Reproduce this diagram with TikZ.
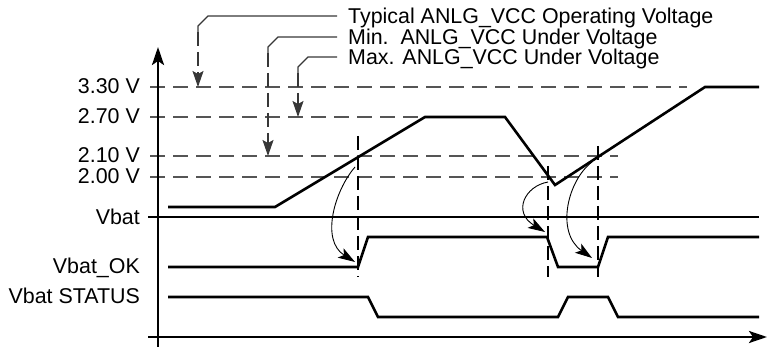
\documentclass[tikz,border=0pt]{standalone}
\usepackage{fontspec}
\setmainfont{Liberation Sans}
\definecolor{levelgray}{RGB}{85,85,85}
\definecolor{leadgray}{RGB}{55,55,55}
\usetikzlibrary{arrows.meta}

\begin{document}
\begin{tikzpicture}[x=1pt, y=-1pt,
    wave/.style={line width=2.6pt, line join=miter},
    level/.style={line width=1.5pt, levelgray, dash pattern=on 15pt off 8pt},
    guide/.style={line width=1.1pt, dash pattern=on 14pt off 6pt},
    leader/.style={line width=1.3pt, leadgray},
    pointer/.style={line width=1.3pt, leadgray, dash pattern=on 14pt off 6pt,
                    -{Stealth[length=16pt, width=11pt, inset=3pt]}},
    cause/.style={line width=0.9pt, -{Stealth[length=17pt, width=11pt, inset=4pt]}},
    axis/.style={line width=2.6pt, -{Stealth[length=18pt, width=12pt, inset=4pt]}},
    ylabel/.style={anchor=base east, inner sep=0pt, font=\fontsize{21.4}{25}\selectfont},
    note/.style={anchor=west, inner xsep=11pt, inner ysep=0pt, text height=15.3pt,
                 text depth=0pt, font=\fontsize{21.4}{25}\selectfont}]
  \useasboundingbox (0,0) rectangle (767,347);

  % level and signal labels
  \node[ylabel] (v330) at (140,94) {3.30 V};
  \node[ylabel] (v270) at (140,124) {2.70 V};
  \node[ylabel] (v210) at (140,163) {2.10 V};
  \node[ylabel] (v200) at (140,184) {2.00 V};
  \node[ylabel] (vbat) at (140,224) {Vbat};
  \node[ylabel] (vok) at (140,273) {Vbat\_OK};
  \node[ylabel] (vstat) at (140,303) {Vbat STATUS};

  \draw[level] (150,87) -- (687,87);
  \draw[level] (150,117) -- (425,117);
  \draw[level] (150,156) -- (618,156);
  \draw[level] (150,177) -- (618,177);

  % axes
  \draw[axis] (158,347) -- (158,47);
  \draw[axis] (148,337) -- (767,337);
  \draw[line width=2.6pt] (148,217) -- (759,217);

  % Vbat
  \coordinate (b0) at (168,207);
  \coordinate (b1) at (275,207);
  \coordinate (b2) at (425,117);
  \coordinate (b3) at (505,117);
  \coordinate (b4) at (555,185);
  \coordinate (b5) at (705,87);
  \coordinate (b6) at (759,87);
  \draw[wave] (b0) -- (b1) -- (b2) -- (b3) -- (b4) -- (b5) -- (b6);

  % Vbat_OK and STATUS
  \draw[wave] (168,267) -- (358,267) -- (368,237) -- (547,237) -- (558,267)
    -- (598,267) -- (608,237) -- (759,237);
  \draw[wave] (168,297) -- (368,297) -- (378,317) -- (558,317) -- (568,297)
    -- (608,297) -- (618,317) -- (759,317);

  \draw[guide] (358,136) -- (358,277);
  \draw[guide] (548,166) -- (548,277);
  \draw[guide] (598,146) -- (598,277);

  \coordinate (hit1) at (355,167);
  \coordinate (ok1) at (355,262);
  \coordinate (hit2) at (548,182);
  \coordinate (ok2) at (545,232);
  \coordinate (hit3) at (592,162);
  \coordinate (ok3) at (592,258);
  \draw[cause] (hit1) .. controls (335,190) and (320,240) .. (ok1);
  \draw[cause] (hit2) .. controls (525,186) and (512,212) .. (ok2);
  \draw[cause] (hit3) .. controls (568,180) and (555,232) .. (ok3);

  % callouts
  \node[note] (typ) at (337,16) {Typical ANLG\_VCC Operating Voltage};
  \node[note] (minu) at (337,37) {Min.\ \ ANLG\_VCC Under Voltage};
  \node[note] (maxu) at (337,57) {Max. ANLG\_VCC Under Voltage};

  \coordinate (typtip) at (198,87);
  \coordinate (mintip) at (268,156);
  \coordinate (maxtip) at (298,117);
  \draw[leader] (typ.west) -- (208,16) -- (198,26) -- (198,32);
  \draw[pointer] (198,32) -- (typtip);
  \draw[leader] (minu.west) -- (278,37) -- (268,47) -- (268,53);
  \draw[pointer] (268,53) -- (mintip);
  \draw[leader] (maxu.west) -- (308,57) -- (298,67) -- (298,73);
  \draw[pointer] (298,73) -- (maxtip);
\end{tikzpicture}
\end{document}
